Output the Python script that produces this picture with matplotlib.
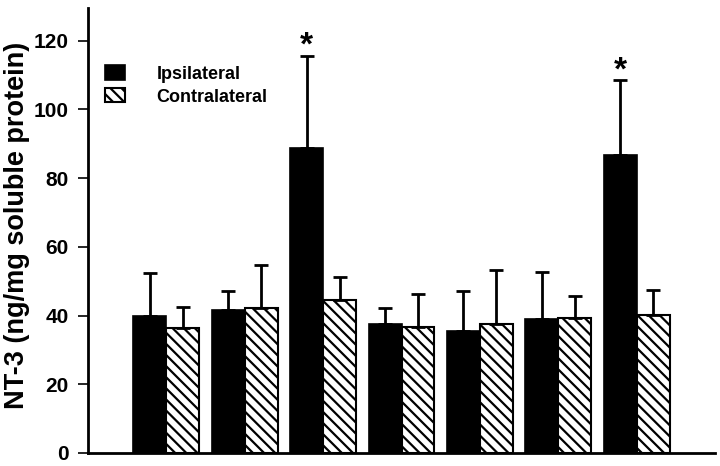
import numpy as np
import matplotlib
matplotlib.use("Agg")
import matplotlib.pyplot as plt

plt.rcParams['font.family'] = ['Liberation Sans', 'DejaVu Sans']
plt.rcParams['font.weight'] = 'bold'
plt.rcParams['hatch.linewidth'] = 1.6

# values (mean and upper SD)
groups = [1, 2, 3, 4, 5, 6, 7]
ipsi_mean = [39.9, 41.5, 88.8, 37.4, 35.5, 39.0, 86.6]
ipsi_sd = [12.5, 5.6, 26.8, 4.7, 11.7, 13.7, 22.0]
contra_mean = [36.5, 42.3, 44.6, 36.8, 37.5, 39.3, 40.3]
contra_sd = [6.1, 12.3, 6.6, 9.6, 15.8, 6.5, 7.1]
significant = [False, False, True, False, False, False, True]

x = np.array(groups, dtype=float)
w = 0.42

fig = plt.figure(figsize=(7.2, 4.66), dpi=100)
ax = fig.add_axes([88 / 720, 13 / 466, 627 / 720, 445 / 466])

b1 = ax.bar(x - w, ipsi_mean, w, align='edge', color='black',
            edgecolor='black', linewidth=1.2, label='Ipsilateral')
b2 = ax.bar(x, contra_mean, w, align='edge', color='white',
            edgecolor='black', linewidth=1.5, hatch='\\\\\\',
            label='Contralateral')

zeros = np.zeros(len(groups))
ax.errorbar(x - w / 2, ipsi_mean, yerr=[zeros, ipsi_sd], fmt='none',
            ecolor='black', elinewidth=2, capsize=4.7, capthick=2)
ax.errorbar(x + w / 2, contra_mean, yerr=[zeros, contra_sd], fmt='none',
            ecolor='black', elinewidth=2, capsize=4.7, capthick=2)

for xi, m, s, sig in zip(x, ipsi_mean, ipsi_sd, significant):
    if sig:
        ax.annotate('*', xy=(xi - w / 2, m + s), xytext=(0, -4.5),
                    textcoords='offset points', ha='center', va='bottom',
                    fontsize=24, fontweight='bold')

ax.set_xlim(0, 8)
ax.set_ylim(0, 129.5)
ax.set_yticks([0, 20, 40, 60, 80, 100, 120])
ax.set_xticks([])
ax.tick_params(axis='y', direction='out', length=7, width=1.2,
               labelsize=15, pad=7)
for lab in ax.get_yticklabels():
    lab.set_fontweight('bold')

ax.spines['top'].set_visible(False)
ax.spines['right'].set_visible(False)
ax.spines['left'].set_linewidth(2)
ax.spines['bottom'].set_linewidth(2)

ax.set_ylabel('NT-3 (ng/mg soluble protein)', fontsize=19.5, fontweight='bold')
ax.yaxis.set_label_coords(-0.092, 0.512)

ax.legend(handles=[b1, b2], loc='upper left',
          bbox_to_anchor=(0.027, 0.871), frameon=False, fontsize=13,
          handlelength=1.1, handleheight=0.83, handletextpad=1.75,
          labelspacing=0.3, borderpad=0, borderaxespad=0)

fig.savefig('out.png', dpi=100)
